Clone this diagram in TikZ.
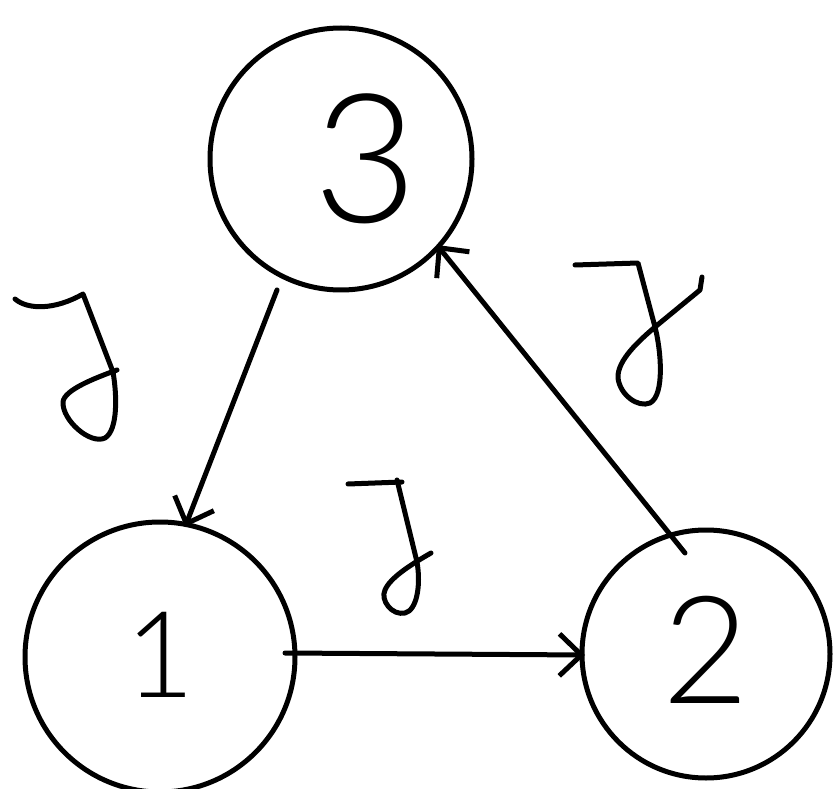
\documentclass[tikz,border=0pt]{standalone}
\usepackage{fontspec}
\newfontfamily\digitfont{Lato Light}
\usetikzlibrary{arrows.meta,calc}
\begin{document}
\begin{tikzpicture}[x=1pt,y=-1pt, line width=5pt, line cap=round, line join=round,
  ring/.style={circle,draw,minimum size=#1,inner sep=0pt},
  digit/.style={inner sep=0pt,font=\digitfont\fontsize{#1}{#1}\selectfont},
  arr/.style={-{Straight Barb[length=22pt,width=42pt]}},
  glyph/.style={line width=5pt}]
\useasboundingbox (0,0) rectangle (839,789);
\node[ring=262pt] (c3) at (341,159) {};
\node[ring=270pt] (c1) at (160,657) {};
\node[ring=248pt] (c2) at (706,654) {};
\node[digit=180] (n3) at (366,159) {3};
\node[digit=120] (n1) at (160,655) {1};
\node[digit=150] (n2) at (706,650) {2};
\draw[arr] ($(c1)+(125,-4)$) -- ($(c2)+(-121,1)$);
\draw[arr] ($(c2)+(-21,-101)$) -- ($(c3)+(96,86)$);
\draw[arr] ($(c3)+(-64,131)$) -- ($(c1)+(25,-130)$);
% left label
\draw[glyph] (15,299) .. controls (28,310) and (55,310) .. (83,294) -- (113,372)
  .. controls (117,395) and (118,430) .. (105,438)
  .. controls (90,445) and (62,420) .. (63,402)
  .. controls (64,390) and (95,378) .. (117,370);
% middle label
\draw[glyph] (348,484) -- (402,482);
\draw[glyph] (397,480) -- (417,562)
  .. controls (421,585) and (417,610) .. (405,613)
  .. controls (392,616) and (380,600) .. (385,590)
  .. controls (390,578) and (410,565) .. (431,553);
% right label
\draw[glyph] (575,265) -- (638,263) -- (655,327)
  .. controls (661,350) and (665,395) .. (650,403)
  .. controls (638,408) and (620,395) .. (618,378)
  .. controls (617,360) and (640,340) .. (655,327) -- (700,290) -- (702,277);
\end{tikzpicture}
\end{document}
